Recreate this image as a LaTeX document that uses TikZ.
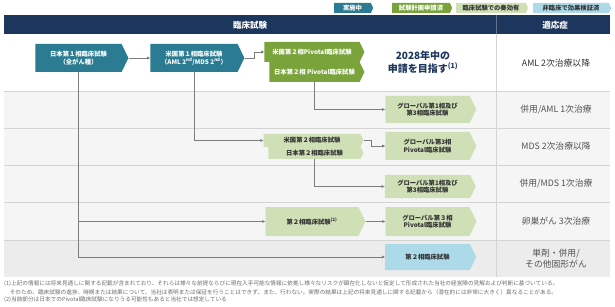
\documentclass[tikz,border=0pt]{standalone}
\usepackage{fontspec}
\setmainfont{Noto Sans CJK JP}
\usetikzlibrary{shapes.symbols, arrows.meta, positioning}

\definecolor{hdrNavy}{RGB}{29,54,94}
\definecolor{phaseTeal}{RGB}{43,124,146}
\definecolor{phaseGreen}{RGB}{122,163,60}
\definecolor{phaseLight}{RGB}{207,224,182}
\definecolor{phaseBlue}{RGB}{172,218,232}
\definecolor{rowGray}{RGB}{245,245,245}
\definecolor{rowDark}{RGB}{236,236,236}
\definecolor{ruleGray}{RGB}{212,212,212}
\definecolor{linkGray}{RGB}{125,125,125}
\definecolor{txtDark}{RGB}{51,51,51}
\definecolor{noteGray}{RGB}{110,110,110}

\begin{document}
\begin{tikzpicture}[x=1pt, y=-1pt, >=Stealth]

% --- Styles ---
\tikzset{
    phaseBox/.style={signal, signal to=east, signal pointer angle=128, inner sep=0pt, align=center, font=\fontsize{6.3}{7.8}\selectfont\bfseries},
    runBox/.style={phaseBox, fill=phaseTeal, text=white},
    planBox/.style={phaseBox, fill=phaseGreen, text=white},
    respBox/.style={phaseBox, fill=phaseLight, text=txtDark},
    preBox/.style={phaseBox, fill=phaseBlue, text=txtDark},
    legendBox/.style={font=\fontsize{5.5}{6}\selectfont\bfseries, minimum height=10},
    link/.style={-{Triangle[length=3pt, width=2.6pt]}, linkGray, line width=0.7pt},
    rowRule/.style={ruleGray, line width=0.8pt},
    indication/.style={font=\fontsize{8.8}{11}\selectfont, text=txtDark!85, align=center},
    footNote/.style={anchor=west, inner sep=0pt, text=noteGray, font=\fontsize{5.65}{6}\selectfont},
}
\useasboundingbox (0,0) rectangle (615,307);

% --- Table background ---
\fill[white] (0,0) rectangle (615,307);
\fill[hdrNavy] (4,15) rectangle (610,34);
\fill[rowGray] (4,91) rectangle (610,240);
\fill[rowDark] (4,240) rectangle (610,277);
\foreach \y in {91,128,165,202,240}
    \draw[rowRule] (4,\y) -- (610,\y);
\draw[hdrNavy!70!white, line width=0.6pt] (496,15) -- (496,34);
\draw[ruleGray, line width=0.6pt] (496,34) -- (496,277);

% --- Header ---
\node[text=white, font=\fontsize{8.5}{10}\selectfont\bfseries] (hdrTrial) at (250,25) {臨床試験};
\node[text=white, font=\fontsize{8.5}{10}\selectfont\bfseries] (hdrInd) at (555,25) {適応症};

% --- Legend ---
\node[legendBox, runBox, minimum width=39] (lgRun) at (352.5,8) {実施中};
\node[legendBox, planBox, minimum width=60] (lgPlan) at (421,8) {試験計画申請済};
\node[legendBox, respBox, minimum width=72] (lgResp) at (491,8) {臨床試験での奏効有};
\node[legendBox, preBox, minimum width=78] (lgPre) at (571,8) {非臨床で効果検証済};

% --- Trials ---
\node[runBox, minimum width=93, minimum height=28] (jpP1) at (78.5,58) {日本第１相臨床試験\\（全がん種）};
\node[runBox, minimum width=94, minimum height=28] (usP1) at (194,58) {米国第１相臨床試験\\（AML 2\textsuperscript{nd}/MDS 2\textsuperscript{nd}）};
\node[planBox, minimum width=95, minimum height=20] (jpP2pv) at (314.5,72) {日本第２相 Pivotal臨床試験};
\node[planBox, minimum width=100, minimum height=20] (usP2pv) at (312,52) {米国第２相Pivotal臨床試験};
\node[text=hdrNavy, align=center, font=\fontsize{10}{12.5}\selectfont\bfseries] (goal) at (423,62) {2028年中の\\申請を目指す\textsuperscript{(1)}};

\node[respBox, minimum width=91, minimum height=27] (glAml) at (427.5,109.5) {グローバル第1相及び\\第3相臨床試験};

\node[respBox, minimum width=95, minimum height=12] (jpP2) at (314.5,153) {日本第２相臨床試験};
\node[respBox, minimum width=100, minimum height=13] (usP2) at (312,140.5) {米国第２相臨床試験};
\node[respBox, minimum width=91, minimum height=28] (glMds) at (427.5,146) {グローバル第3相\\Pivotal臨床試験};

\node[respBox, minimum width=91, minimum height=23] (glMdsCombo) at (427.5,186.5) {グローバル第1相及び\\第3相臨床試験};

\node[respBox, minimum width=100, minimum height=29] (ovP2) at (312,221.5) {第２相臨床試験\textsuperscript{(2)}};
\node[respBox, minimum width=91, minimum height=29] (ovP3) at (427.5,221.5) {グローバル第３相\\Pivotal臨床試験};

\node[preBox, minimum width=91, minimum height=26] (solidP2) at (427.5,257) {第２相臨床試験};

% --- Indications ---
\node[indication, text=txtDark] (indA) at (556,63) {AML 2次治療以降};
\node[indication] (indB) at (556,109.5) {併用/AML 1次治療};
\node[indication] (indC) at (556,146.5) {MDS 2次治療以降};
\node[indication] (indD) at (556,183.5) {併用/MDS 1次治療};
\node[indication] (indE) at (556,221) {卵巣がん 3次治療};
\node[indication] (indF) at (556,258.5) {単剤・併用/\\その他固形がん};

% --- Connectors ---
\draw[link] (jpP1.east) -- (usP1.west);
\draw[link] (usP1.east) -- ++(10,0) |- (usP2pv.west);
\draw[link] (jpP2pv.south) |- (glAml.west);
\draw[link] (usP1.south) |- (usP2.west);
\draw[link] (usP2.east) -- ++(8,0) |- (glMds.west);
\draw[link] (jpP2.south) |- (glMdsCombo.west);
\draw[link] (jpP1.south) |- (solidP2.west);
\draw[link] (jpP1.south |- ovP2.west) -- (ovP2.west);
\draw[link] (ovP2.east) -- (ovP3.west);

% --- Footnotes ---
\node[footNote] (note1) at (4,284) {(1)上記の情報には将来見通しに関する記載が含まれており、それらは様々な前提ならびに現在入手可能な情報に依拠し様々なリスクが顕在化しないと仮定して形成された当社の経営陣の見解および判断に基づいている。};
\node[footNote] (note1b) at (4,292) {　そのため、臨床試験の進捗、時期または結果について、当社は表明または保証を行うことはできず、また、行わない。実際の結果は上記の将来見通しに関する記載から（潜在的には非常に大きく）異なることがある。};
\node[footNote] (note2) at (4,300) {(2)当該部分は日本でのPivotal臨床試験になりうる可能性もあると当社では想定している};

\end{tikzpicture}
\end{document}
